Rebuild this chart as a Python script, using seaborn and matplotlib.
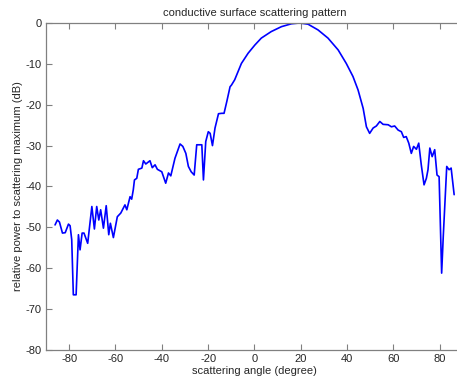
import pandas as pd
import matplotlib
matplotlib.use('Agg')
import matplotlib.pyplot as plt
import seaborn as sns

# values
angle = [-86.1, -85.1, -84.2, -82.9, -81.7, -80.3, -79.6, -78.9, -78.2, -77.0,
         -76.0, -75.3, -74.4, -73.6, -72.0, -70.2, -69.1, -68.1, -67.2, -66.4,
         -65.2, -64.0, -62.9, -62.2, -60.9, -59.2, -57.7, -55.9, -55.1, -53.7,
         -53.0, -52.3, -51.8, -50.8, -50.1, -48.6, -47.9, -46.9, -45.1, -44.1,
         -42.9, -41.9, -40.0, -38.3, -37.1, -36.1, -34.3, -32.1, -30.9, -29.6,
         -28.5, -27.3, -26.0, -24.9, -22.7, -22.0, -21.0, -19.9, -19.1, -18.1,
         -17.0, -15.5, -14.1, -13.1, -11.9, -10.5, -9.9, -8.5, -5.6, -2.7,
         0.2, 3.0, 7.3, 11.7, 16.0, 19.6, 23.2, 27.5, 31.8, 36.2,
         39.7, 42.6, 44.8, 47.0, 48.4, 49.8, 51.3, 52.7, 54.2, 55.6,
         57.8, 59.2, 60.6, 62.1, 63.5, 64.5, 65.6, 66.7, 67.8, 68.8,
         70.0, 71.0, 72.1, 73.3, 74.3, 75.0, 75.8, 76.8, 77.9, 78.9,
         79.8, 80.9, 81.6, 83.1, 84.1, 85.0, 86.3]
power_db = [-49.4, -48.2, -48.7, -51.4, -51.3, -49.2, -49.6, -53.0, -66.5, -66.5,
            -51.8, -55.5, -51.4, -51.4, -53.9, -44.9, -50.4, -44.9, -48.2, -45.7,
            -50.2, -44.7, -51.8, -49.0, -52.5, -47.4, -46.5, -44.5, -45.7, -42.5,
            -43.1, -40.8, -38.4, -38.0, -35.8, -35.5, -33.7, -34.5, -33.7, -35.4,
            -34.7, -35.8, -36.4, -39.2, -36.7, -37.4, -33.1, -29.6, -30.2, -31.9,
            -35.1, -36.4, -37.2, -29.8, -29.8, -38.4, -29.0, -26.6, -27.0, -30.0,
            -25.7, -22.2, -22.1, -22.1, -19.2, -15.6, -15.2, -13.9, -9.9, -7.4,
            -5.4, -3.7, -2.1, -0.9, -0.2, 0.0, -0.3, -1.7, -3.7, -6.6,
            -9.9, -13.1, -16.4, -20.9, -25.4, -27.0, -25.7, -25.2, -24.1, -24.8,
            -24.9, -25.4, -25.2, -26.2, -26.6, -28.0, -27.8, -29.4, -31.9, -30.2,
            -30.9, -29.4, -34.7, -39.6, -38.0, -35.9, -30.6, -32.7, -31.0, -37.2,
            -37.6, -61.2, -52.2, -35.1, -35.9, -35.5, -42.0]

xticks = [-80, -60, -40, -20, 0, 20, 40, 60, 80]
yticks = [0, -10, -20, -30, -40, -50, -60, -70, -80]

df = pd.DataFrame({'angle': angle, 'power': power_db})

sns.set_style('ticks')
plt.rcParams['font.family'] = ['Liberation Sans', 'DejaVu Sans']
plt.rcParams['font.size'] = 8
plt.rcParams['axes.unicode_minus'] = False

fig = plt.figure(figsize=(4.57, 3.81), dpi=100)
ax = fig.add_axes([0.1007, 0.0814, 0.9118, 0.8583])

sns.lineplot(data=df, x='angle', y='power', color='#0000ff', linewidth=1.2,
             estimator=None, sort=False, ax=ax)

ax.set_xlim(-90, 90)
ax.set_ylim(-80, 0)
ax.set_xticks(xticks)
ax.set_yticks(yticks)
ax.tick_params(direction='in', length=4, width=0.8, color='#808080',
               labelsize=8, top=True, right=True, pad=3)
for s in ax.spines.values():
    s.set_color('#808080')
    s.set_linewidth(0.9)

ax.set_title('conductive surface scattering pattern', fontsize=8, pad=5)
ax.set_xlabel('scattering angle (degree)', fontsize=8, labelpad=1)
ax.set_ylabel('relative power to scattering maximum (dB)', fontsize=8, labelpad=2)

fig.savefig('out.png', dpi=100)
